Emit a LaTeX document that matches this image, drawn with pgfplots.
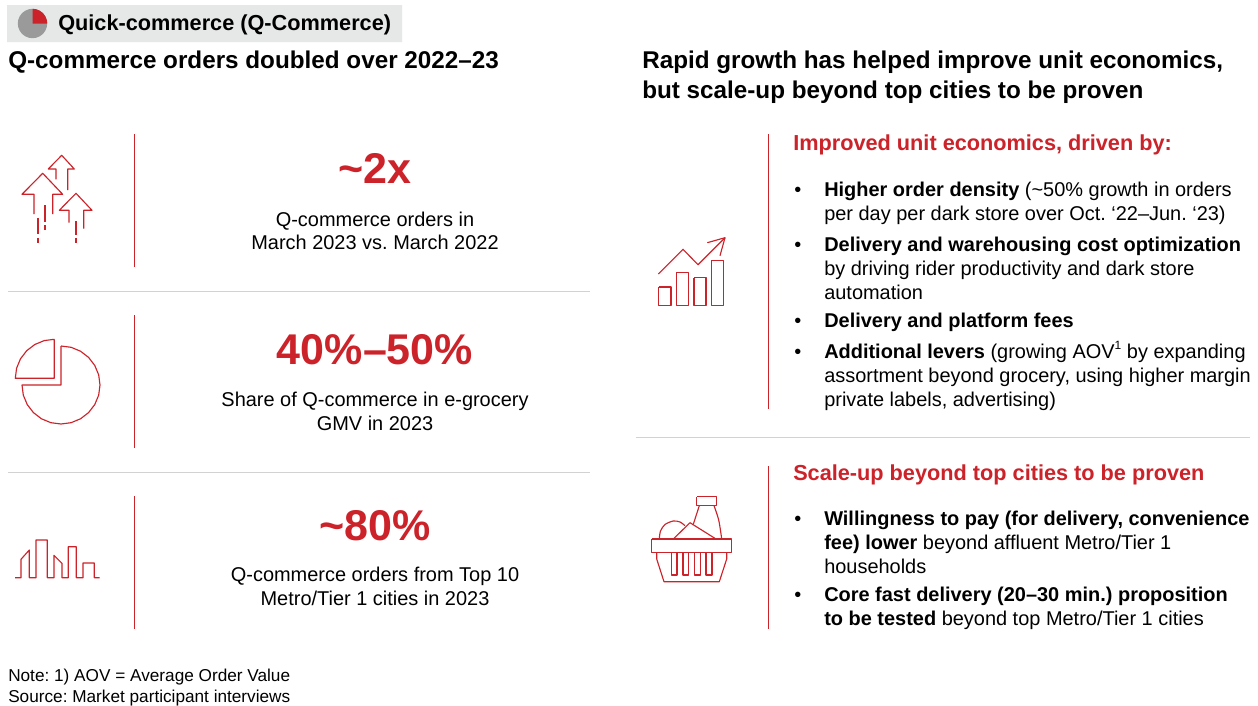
\documentclass[border=0pt]{standalone}
\usepackage{fontspec}
\setmainfont{Liberation Sans}
\usepackage{pgfplots}
\pgfplotsset{compat=1.18}
\definecolor{bred}{HTML}{CC2229}
\definecolor{rule}{HTML}{D2D2D2}
\definecolor{band}{HTML}{E6E7E7}
\definecolor{pie}{HTML}{9A9A9A}
\frenchspacing
% font size in reference pixels
\newcommand{\px}[1]{\fontsize{\dimexpr#1pt*3/4\relax}{\dimexpr#1pt\relax}\selectfont}
\newcommand{\LT}[4]{\node[anchor=base west,inner sep=0pt] at (axis cs:#1,#2) {\px{#3}{}#4};}
\newcommand{\CT}[4]{\node[anchor=base,inner sep=0pt] at (axis cs:#1,#2) {\px{#3}{}#4};}
\begin{document}
\begin{tikzpicture}
\begin{axis}[
  scale only axis,
  width=943.5pt,
  height=528.75pt,
  xmin=0,xmax=1258,
  ymin=0,ymax=705,
  y dir=reverse,
  hide axis,
  clip=false,
  ic/.style={draw=bred,line width=0.85pt,line join=round},
  vr/.style={draw=bred,line width=0.7pt},
  hr/.style={draw=rule,line width=0.75pt},
]
% page
\addplot[fill=white,draw=none] coordinates {(0,0) (1258,0) (1258,705) (0,705) (0,0)};
% header band and small pie
\addplot[fill=band,draw=none] coordinates {(7,5) (402,5) (402,42) (7,42) (7,5)};
\addplot[fill=pie,draw=none] coordinates {(47.2,23.5) (46.7,27.3) (45.2,30.9) (42.9,33.9) (39.9,36.2) (36.3,37.7) (32.5,38.2) (28.7,37.7) (25.1,36.2) (22.1,33.9) (19.8,30.9) (18.3,27.3) (17.8,23.5) (18.3,19.7) (19.8,16.1) (22.1,13.1) (25.1,10.8) (28.7,9.3) (32.5,8.8) (36.3,9.3) (39.9,10.8) (42.9,13.1) (45.2,16.1) (46.7,19.7) (47.2,23.5)};
\addplot[fill=bred,draw=none] coordinates {(32.5,23.5) (32.5,8.8) (36.3,9.3) (39.9,10.8) (42.9,13.1) (45.2,16.1) (46.7,19.7) (47.2,23.5) (32.5,23.5)};
% rules
\addplot[vr] coordinates {(134,134) (134,267)};
\addplot[vr] coordinates {(134,315) (134,448)};
\addplot[vr] coordinates {(134,496) (134,629)};
\addplot[vr] coordinates {(768,134) (768,409)};
\addplot[vr] coordinates {(768,466) (768,629)};
\addplot[hr] coordinates {(8,291.5) (590,291.5)};
\addplot[hr] coordinates {(8,472.5) (590,472.5)};
\addplot[hr] coordinates {(636,437) (1250,437)};
% arrows icon
\addplot[ic] coordinates {(56,179.3) (56,169) (48.3,169) (61.7,155.3) (74.3,169) (67.7,169) (67.7,190)};
\addplot[ic] coordinates {(34,214) (34,194.3) (22,194.3) (42.7,173.3) (62.7,194.3) (52.7,194.3) (52.7,214)};
\addplot[ic] coordinates {(69,222.7) (69,210.3) (59.3,210.3) (76,193.3) (92,210.3) (83.7,210.3) (83.7,228.7)};
\addplot[ic] coordinates {(38,218.3) (38,234.3)};
\addplot[ic] coordinates {(38,238.3) (38,243.3)};
\addplot[ic] coordinates {(45,205) (45,221.7)};
\addplot[ic] coordinates {(45,225) (45,230)};
\addplot[ic] coordinates {(76,221) (76,235)};
\addplot[ic] coordinates {(76,237.7) (76,242.7)};
% pie icon
\addplot[ic] coordinates {(61,346) (71.1,347.3) (80.5,351.2) (88.6,357.4) (94.8,365.5) (98.7,374.9) (100,385) (98.7,395.1) (94.8,404.5) (88.6,412.6) (80.5,418.8) (71.1,422.7) (61,424) (50.9,422.7) (41.5,418.8) (33.4,412.6) (27.2,404.5) (23.3,395.1) (22,385) (61,385) (61,346)};
\addplot[ic] coordinates {(54.3,339.3) (44.2,340.6) (34.8,344.5) (26.7,350.7) (20.5,358.8) (16.6,368.2) (15.3,378.3) (54.3,378.3) (54.3,339.3)};
% skyline icon
\addplot[ic] coordinates {(15,577.7) (21,577.7) (21,559.3) (29.3,550) (29.3,577.7) (36,577.7) (36,540) (47.3,540) (47.3,577.7) (54,577.7) (54,555.3) (62,563.3) (62,577.7) (68.3,577.7) (68.3,546.7) (76.3,546.7) (76.3,577.7) (83,577.7) (83,563) (94.3,563) (94.3,577.7) (99.7,577.7)};
% growth icon
\addplot[ic] coordinates {(658.3,274) (683,249.3) (698,264.7) (725,237.7)};
\addplot[ic] coordinates {(707.3,242.7) (725,237.7) (720,255.7)};
\addplot[ic] coordinates {(658.7,287) (671,287) (671,305.3) (658.7,305.3) (658.7,287)};
\addplot[ic] coordinates {(676.7,272.3) (688.7,272.3) (688.7,305.3) (676.7,305.3) (676.7,272.3)};
\addplot[ic] coordinates {(694,277.7) (706,277.7) (706,305.3) (694,305.3) (694,277.7)};
\addplot[ic] coordinates {(711.3,260.3) (723.3,260.3) (723.3,305.3) (711.3,305.3) (711.3,260.3)};
% basket icon
\addplot[ic] coordinates {(651.7,539) (731.7,539) (731.7,552.3) (651.7,552.3) (651.7,539)};
\addplot[ic] coordinates {(656.7,552.3) (656.7,559) (664,581.7) (719.3,581.7) (726.7,559) (726.7,552.3)};
\addplot[ic] coordinates {(671.3,552.3) (671.3,575) (677,575) (677,552.3)};
\addplot[ic] coordinates {(683,552.3) (683,575) (688.7,575) (688.7,552.3)};
\addplot[ic] coordinates {(694.3,552.3) (694.3,575) (700.3,575) (700.3,552.3)};
\addplot[ic] coordinates {(706,552.3) (706,575) (712,575) (712,552.3)};
\addplot[ic] coordinates {(696.7,496.7) (716.7,496.7) (716.7,505.7) (696.7,505.7) (696.7,496.7)};
\addplot[ic] coordinates {(699.3,505.7) (693.3,524.3)};
\addplot[ic,smooth] coordinates {(714,505.7) (718.7,520) (721.7,539)};
\addplot[ic] coordinates {(673.3,539) (690,522.7) (716,539)};
\addplot[ic,smooth] coordinates {(659.3,539) (660.5,531) (665,524.5) (673.3,521) (680,522) (685,525.7)};
% text
\LT{58}{31}{21.7}{\textbf{Quick-commerce (Q-Commerce)}}
\LT{8}{68}{24.25}{\textbf{Q-commerce orders doubled over 2022–23}}
\LT{642}{68}{24.25}{\textbf{Rapid growth has helped improve unit economics,}}
\LT{642}{98}{24.25}{\textbf{but scale-up beyond top cities to be proven}}
\CT{375}{183}{43}{\textcolor{bred}{\textbf{\textasciitilde 2x}}}
\CT{375}{226}{19.95}{Q-commerce orders in}
\CT{375}{249}{19.95}{March 2023 vs. March 2022}
\CT{375}{364}{43}{\textcolor{bred}{\textbf{40\%–50\%}}}
\CT{375}{406}{19.95}{Share of Q-commerce in e-grocery}
\CT{375}{430}{19.95}{GMV in 2023}
\CT{375}{540}{43}{\textcolor{bred}{\textbf{\textasciitilde 80\%}}}
\CT{375}{581}{19.95}{Q-commerce orders from Top 10}
\CT{375}{605}{19.95}{Metro/Tier 1 cities in 2023}
\LT{793}{150}{21.7}{\textcolor{bred}{\textbf{Improved unit economics, driven by:}}}
\LT{794}{196}{19.95}{•}
\LT{824}{196}{19.95}{\textbf{Higher order density} (\textasciitilde 50\% growth in orders}
\LT{824}{220}{19.95}{per day per dark store over Oct. ‘22–Jun. ‘23)}
\LT{794}{251}{19.95}{•}
\LT{824}{251}{19.95}{\textbf{Delivery and warehousing cost optimization}}
\LT{824}{275}{19.95}{by driving rider productivity and dark store}
\LT{824}{299}{19.95}{automation}
\LT{794}{327}{19.95}{•}
\LT{824}{327}{19.95}{\textbf{Delivery and platform fees}}
\LT{794}{358}{19.95}{•}
\LT{824}{358}{19.95}{\textbf{Additional levers} (growing AOV\raisebox{0.42em}{\px{12}{}1} by expanding}
\LT{824}{382}{19.95}{assortment beyond grocery, using higher margin}
\LT{824}{406}{19.95}{private labels, advertising)}
\LT{793}{480}{21.7}{\textcolor{bred}{\textbf{Scale-up beyond top cities to be proven}}}
\LT{794}{525}{19.95}{•}
\LT{824}{525}{19.95}{\textbf{Willingness to pay (for delivery, convenience}}
\LT{824}{549}{19.95}{\textbf{fee) lower} beyond affluent Metro/Tier 1}
\LT{824}{573}{19.95}{households}
\LT{794}{601}{19.95}{•}
\LT{824}{601}{19.95}{\textbf{Core fast delivery (20–30 min.) proposition}}
\LT{824}{625}{19.95}{\textbf{to be tested} beyond top Metro/Tier 1 cities}
\LT{8}{681}{17.2}{Note: 1) AOV = Average Order Value}
\LT{8}{702}{17.2}{Source: Market participant interviews}
\end{axis}
\end{tikzpicture}
\end{document}
